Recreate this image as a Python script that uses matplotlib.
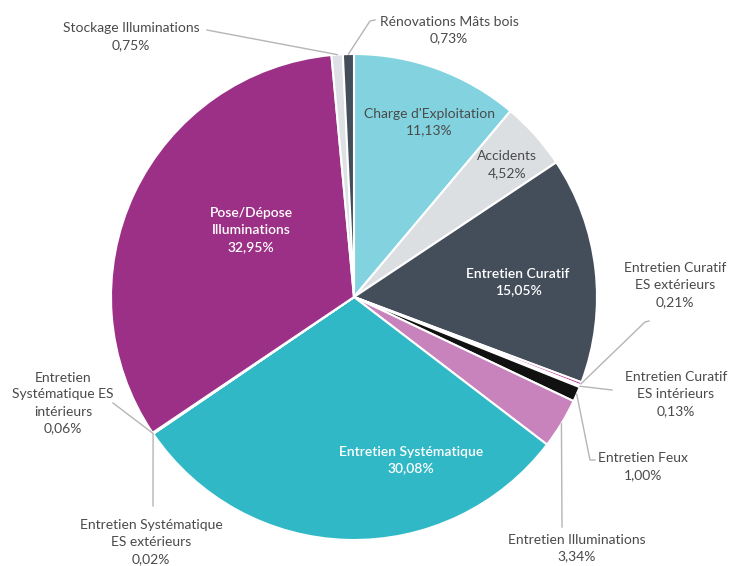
import numpy as np
import matplotlib.pyplot as plt

plt.rcParams['font.family'] = ['Lato', 'DejaVu Sans']

# slices, clockwise from the top
labels = ["Charge d'Exploitation", "Accidents", "Entretien Curatif",
          "Entretien Curatif\nES extérieurs", "Entretien Curatif\nES intérieurs",
          "Entretien Feux", "Entretien Illuminations", "Entretien Systématique",
          "Entretien Systématique\nES extérieurs", "Entretien\nSystématique ES\nintérieurs",
          "Pose/Dépose\nIlluminations", "Stockage Illuminations", "Rénovations Mâts bois"]
values = [11.13, 4.52, 15.05, 0.21, 0.13, 1.00, 3.34, 30.08, 0.02, 0.06, 32.95, 0.75, 0.73]
colors = ['#82d3df', '#dcdfe2', '#444e5a', '#b5379e', '#eeeeee', '#111111', '#c882bc',
          '#31b8c6', '#2aa7b4', '#8a2a78', '#9c3086', '#dde0e4', '#444e5a']

W, H = 731, 566
CX, CY, R = 354, 297, 243
TXT = '#4a4a4a'
LINE = '#b5b5b5'


def P(x, y):
    # pixel position (top-left origin) -> data coords
    return x, H - y


def pct(v):
    return f'{v:.2f}'.replace('.', ',') + '%'


fig = plt.figure(figsize=(W / 100, H / 100), dpi=100)
ax = fig.add_axes([0, 0, 1, 1])

wedges, _ = ax.pie(values, colors=colors, startangle=90, counterclock=False,
                   center=P(CX, CY), radius=R,
                   wedgeprops=dict(edgecolor='white', linewidth=1.5))
ax.set_xlim(0, W)
ax.set_ylim(0, H)
ax.set_aspect('equal')
ax.axis('off')

# labels inside the big slices: index -> (x, y, text colour)
inner = {0: (429, 122, TXT), 1: (507, 165, TXT), 2: (518, 282, 'white'),
         7: (411, 460, 'white'), 10: (251, 230, 'white')}
for i, (x, y, c) in inner.items():
    w = 'semibold' if c == 'white' else 'normal'
    ax.text(*P(x, y), labels[i] + '\n' + pct(values[i]), ha='center', va='center',
            color=c, fontsize=10, fontweight=w, linespacing=1.5)

# outside labels: index -> (label centre, elbow points to the anchor)
outer = {
    12: ((449, 30), [(375, 20), (370, 21)]),
    11: ((131, 37), [(207, 30), (212, 31)]),
    3: ((675, 285), [(649, 321), (645, 322)]),
    4: ((676, 394), [(612, 390)]),
    5: ((643, 467), [(595, 460), (590, 460)]),
    6: ((577, 548), [(562, 527)]),
    9: ((63, 403), [(113, 403)]),
    8: ((151, 542), [(153, 506)]),
}
for i, (pos, elbow) in outer.items():
    wd = wedges[i]
    mid = np.deg2rad((wd.theta1 + wd.theta2) / 2)
    ax_, ay_ = CX + R * np.cos(mid), CY - R * np.sin(mid)
    pts = elbow + [(ax_, ay_)]
    xs = [p[0] for p in pts]
    ys = [H - p[1] for p in pts]
    ax.plot(xs, ys, color=LINE, lw=1)
    ax.text(*P(*pos), labels[i] + '\n' + pct(values[i]), ha='center', va='center',
            color=TXT, fontsize=10, linespacing=1.5)

fig.savefig('out.png', dpi=100)
